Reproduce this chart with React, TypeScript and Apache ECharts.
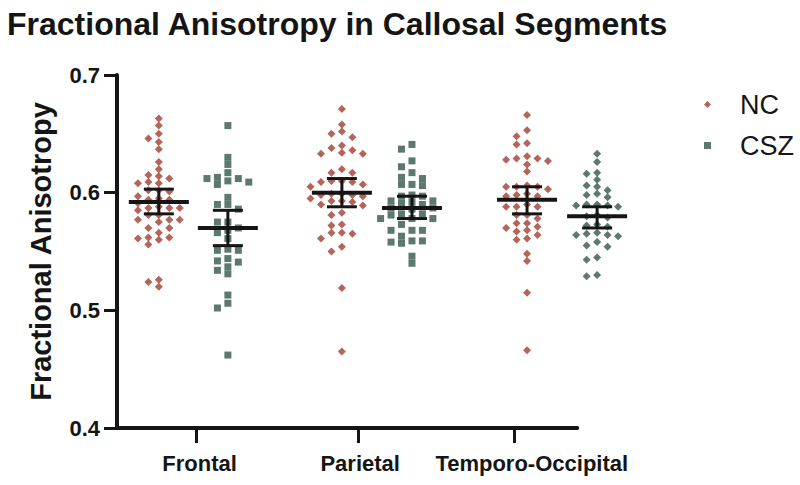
import React, { useEffect, useRef } from "react";
import * as echarts from "echarts";

const SEGMENTS = ["Frontal", "Parietal", "Temporo-Occipital"];
const NC_X = [0.8, 4.3, 7.84];
const CSZ_X = [2.12, 5.64, 9.18];
const TICK_X = [1.51, 4.61, 7.59];
const LABEL_X = [1.58, 4.65, 7.93];
const X_AXIS_END = 8.8;
const Y_MIN = 0.4;
const Y_MAX = 0.7;

const NC_FRONTAL = [0.663, 0.657, 0.65, 0.646, 0.643, 0.637, 0.626, 0.62, 0.615, 0.614, 0.612, 0.609, 0.608, 0.608, 0.602, 0.602, 0.601, 0.597, 0.595, 0.594, 0.594, 0.591, 0.588, 0.587, 0.587, 0.587, 0.585, 0.581, 0.581, 0.577, 0.577, 0.577, 0.575, 0.57, 0.57, 0.566, 0.562, 0.562, 0.561, 0.56, 0.556, 0.526, 0.524, 0.52];
const CSZ_FRONTAL = [0.657, 0.63, 0.624, 0.617, 0.613, 0.612, 0.612, 0.61, 0.609, 0.607, 0.596, 0.59, 0.59, 0.586, 0.575, 0.575, 0.57, 0.568, 0.566, 0.561, 0.552, 0.551, 0.551, 0.544, 0.542, 0.541, 0.537, 0.534, 0.531, 0.513, 0.506, 0.502, 0.462];
const NC_PARIETAL = [0.671, 0.658, 0.652, 0.65, 0.647, 0.64, 0.638, 0.636, 0.634, 0.633, 0.633, 0.62, 0.617, 0.617, 0.61, 0.61, 0.609, 0.609, 0.607, 0.605, 0.599, 0.599, 0.598, 0.598, 0.597, 0.595, 0.593, 0.593, 0.592, 0.59, 0.589, 0.583, 0.581, 0.573, 0.572, 0.566, 0.566, 0.565, 0.561, 0.554, 0.55, 0.519, 0.465];
const CSZ_PARIETAL = [0.641, 0.637, 0.627, 0.622, 0.617, 0.613, 0.612, 0.607, 0.607, 0.606, 0.598, 0.597, 0.597, 0.593, 0.593, 0.592, 0.591, 0.59, 0.587, 0.587, 0.586, 0.582, 0.582, 0.581, 0.578, 0.578, 0.578, 0.573, 0.568, 0.568, 0.568, 0.563, 0.559, 0.559, 0.558, 0.557, 0.546, 0.54];
const NC_TEMPORO = [0.666, 0.653, 0.648, 0.642, 0.641, 0.631, 0.629, 0.629, 0.628, 0.627, 0.624, 0.618, 0.606, 0.605, 0.605, 0.605, 0.603, 0.599, 0.598, 0.597, 0.597, 0.59, 0.588, 0.588, 0.588, 0.581, 0.581, 0.578, 0.574, 0.574, 0.571, 0.57, 0.568, 0.567, 0.564, 0.561, 0.56, 0.548, 0.542, 0.515, 0.466];
const CSZ_TEMPORO = [0.633, 0.626, 0.617, 0.616, 0.611, 0.606, 0.605, 0.602, 0.599, 0.598, 0.596, 0.59, 0.59, 0.589, 0.589, 0.588, 0.581, 0.58, 0.579, 0.573, 0.572, 0.571, 0.566, 0.565, 0.564, 0.564, 0.563, 0.558, 0.555, 0.554, 0.545, 0.543, 0.53, 0.529];

const NC_MEAN = [0.592, 0.6, 0.594];
const NC_LO = [0.582, 0.588, 0.582];
const NC_HI = [0.603, 0.612, 0.605];
const CSZ_MEAN = [0.57, 0.587, 0.58];
const CSZ_LO = [0.555, 0.578, 0.57];
const CSZ_HI = [0.585, 0.597, 0.588];

const NC_COLOR = "#a13d30";
const CSZ_COLOR = "#33564b";
const INK = "#151515";
const FONT = "Liberation Sans, Arial, sans-serif";

function swarm(values: number[], cx: number, step: number, thr: number) {
  const sorted = [...values].sort((a, b) => b - a);
  const placed: { off: number; v: number }[] = [];
  const out: number[][] = [];
  const offs = [0, -1, 1, -2, 2, -3, 3, -4, 4];
  for (const v of sorted) {
    for (const off of offs) {
      if (!placed.some((p) => p.off === off && Math.abs(p.v - v) < thr)) {
        placed.push({ off, v });
        out.push([cx + off * step, v]);
        break;
      }
    }
  }
  return out;
}

export default function App() {
  const ref = useRef<HTMLDivElement>(null);
  useEffect(() => {
    if (!ref.current) return;
    const chart = echarts.init(ref.current, null, { renderer: "svg" });
    const STEP = 0.2;
    const THR = 0.0056;
    const ncGroups = [NC_FRONTAL, NC_PARIETAL, NC_TEMPORO];
    const cszGroups = [CSZ_FRONTAL, CSZ_PARIETAL, CSZ_TEMPORO];
    const ncData: any[] = [];
    ncGroups.forEach((g, i) => swarm(g, NC_X[i], STEP, THR).forEach((p) => ncData.push(p)));
    const cszData: any[] = [];
    cszGroups.forEach((g, i) =>
      swarm(g, CSZ_X[i], STEP, THR).forEach((p) =>
        cszData.push(i === 2 ? { value: p, symbol: "diamond", symbolSize: 8 } : p)
      )
    );
    const barData: number[][] = [];
    for (let i = 0; i < 3; i++) {
      barData.push([NC_X[i], NC_MEAN[i], NC_LO[i], NC_HI[i]]);
      barData.push([CSZ_X[i], CSZ_MEAN[i], CSZ_LO[i], CSZ_HI[i]]);
    }
    const nearestName = (v: number) => {
      let best = 0;
      LABEL_X.forEach((x, i) => {
        if (Math.abs(x - v) < Math.abs(LABEL_X[best] - v)) best = i;
      });
      return SEGMENTS[best];
    };
    chart.setOption({
      animation: false,
      backgroundColor: "#ffffff",
      title: {
        text: "Fractional Anisotropy in Callosal Segments",
        left: 2,
        top: 3,
        textStyle: { fontFamily: FONT, fontSize: 32, fontWeight: "bold", color: INK },
      },
      legend: {
        orient: "vertical",
        left: 699,
        top: 85,
        itemWidth: 7,
        itemHeight: 7,
        itemGap: 12,
        data: [
          { name: "NC", icon: "diamond" },
          { name: "CSZ", icon: "rect" },
        ],
        textStyle: { fontFamily: FONT, fontSize: 27, color: INK, padding: [0, 0, 0, 24], lineHeight: 29 },
      },
      grid: { left: 117, right: 160, top: 75, bottom: 57 },
      xAxis: {
        type: "value",
        min: 0,
        max: 10,
        axisLine: { show: false },
        splitLine: { show: false },
        axisTick: { show: true, customValues: TICK_X, length: 15, lineStyle: { color: INK, width: 3 } },
        axisLabel: {
          customValues: LABEL_X,
          formatter: (v: number) => nearestName(v),
          margin: 24,
          fontFamily: FONT,
          fontSize: 22,
          fontWeight: "bold",
          color: INK,
        },
      },
      yAxis: {
        type: "value",
        min: Y_MIN,
        max: Y_MAX,
        interval: 0.1,
        name: "Fractional Anisotropy",
        nameLocation: "middle",
        nameGap: 62,
        nameTextStyle: { fontFamily: FONT, fontSize: 29, fontWeight: "bold", color: INK },
        axisLine: { show: true, lineStyle: { color: INK, width: 4 } },
        axisTick: { show: true, length: 13, lineStyle: { color: INK, width: 3 } },
        splitLine: { show: false },
        axisLabel: {
          formatter: (v: number) => v.toFixed(1),
          margin: 17,
          fontFamily: FONT,
          fontSize: 22,
          fontWeight: "bold",
          color: INK,
        },
      },
      series: [
        {
          name: "axisline",
          type: "line",
          data: [
            [0, Y_MIN],
            [X_AXIS_END, Y_MIN],
          ],
          symbol: "none",
          silent: true,
          lineStyle: { color: INK, width: 4, cap: "round" },
          z: 1,
        },
        {
          name: "NC",
          type: "scatter",
          symbol: "diamond",
          symbolSize: 8,
          itemStyle: { color: NC_COLOR },
          data: ncData,
          z: 2,
        },
        {
          name: "CSZ",
          type: "scatter",
          symbol: "rect",
          symbolSize: 7,
          itemStyle: { color: CSZ_COLOR },
          data: cszData,
          z: 2,
        },
        {
          name: "bars",
          type: "custom",
          data: barData,
          encode: { x: 0, y: [1, 2, 3] },
          z: 3,
          silent: true,
          renderItem: (params: any, api: any) => {
            const x = api.value(0);
            const pm = api.coord([x, api.value(1)]);
            const pl = api.coord([x, api.value(2)]);
            const ph = api.coord([x, api.value(3)]);
            const st = { stroke: INK, lineWidth: 3 };
            return {
              type: "group",
              children: [
                { type: "line", shape: { x1: pm[0] - 30, y1: pm[1], x2: pm[0] + 30, y2: pm[1] }, style: { stroke: INK, lineWidth: 4 } },
                { type: "line", shape: { x1: pl[0], y1: pl[1], x2: ph[0], y2: ph[1] }, style: st },
                { type: "line", shape: { x1: pl[0] - 15, y1: pl[1], x2: pl[0] + 15, y2: pl[1] }, style: st },
                { type: "line", shape: { x1: ph[0] - 15, y1: ph[1], x2: ph[0] + 15, y2: ph[1] }, style: st },
              ],
            };
          },
        },
      ],
    });
    return () => chart.dispose();
  }, []);
  return <div ref={ref} style={{ position: "fixed", left: 0, top: 0, width: 800, height: 485 }} />;
}
